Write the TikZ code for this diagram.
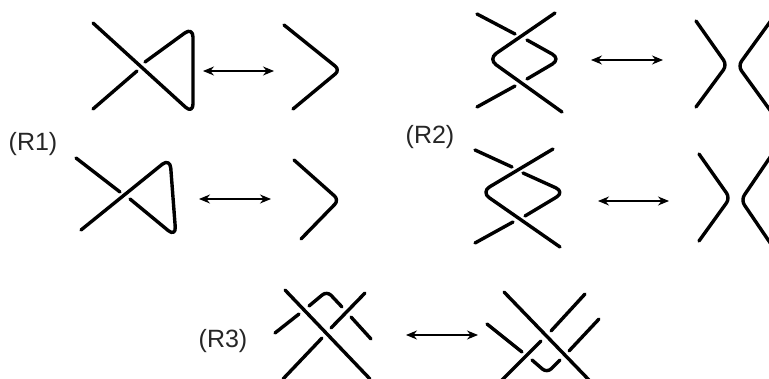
\documentclass[tikz,border=0pt]{standalone}
\usepackage{fontspec}
\setmainfont{Liberation Sans}
\usetikzlibrary{arrows.meta}
\tikzset{
  strand/.style={line width=3.4pt,line cap=round,line join=round,rounded corners=6pt,black},
  loopy/.style={strand,rounded corners=10pt},
  move/.style={line width=1.1pt,{Stealth[length=11pt,width=9pt]}-{Stealth[length=11pt,width=9pt]},black},
  lab/.style={font=\fontsize{25}{30}\selectfont,inner sep=0pt,anchor=base,text=black!85}
}
\begin{document}
\begin{tikzpicture}[x=1pt,y=-1pt]
\useasboundingbox (0,0) rectangle (769,379);
\clip (0,0) rectangle (769,379);
% R1 top
\draw[loopy] (93,23) -- (193,114) -- (193,27) -- (145,62);
\draw[strand] (93,109) -- (137,71);
\draw[strand] (284,25) -- (340,70) -- (293,109);
\coordinate (a1l) at (203,71); \coordinate (a1r) at (274,71);
\draw[move] (a1l) -- (a1r);
% R1 bottom
\draw[strand] (76,158) -- (120,192);
\draw[loopy] (81,230) -- (170,158) -- (176,237) -- (130,199);
\draw[strand] (294,160) -- (339,200) -- (301,239);
\coordinate (a2l) at (199,199); \coordinate (a2r) at (271,199);
\draw[move] (a2l) -- (a2r);
\node[lab] (r1) at (33,151) {(R1)};
% R2 top
\draw[strand] (477,14) -- (515,34);
\draw[loopy] (555,13) -- (488,59) -- (562,112);
\draw[loopy] (527,40) -- (561,59) -- (527,79);
\draw[strand] (477,107) -- (515,86);
\draw[strand] (696,21) -- (727,65) -- (696,107);
\draw[strand] (775,15) -- (738,66) -- (775,117);
\coordinate (a3l) at (591,60); \coordinate (a3r) at (663,60);
\draw[move] (a3l) -- (a3r);
% R2 bottom
\draw[strand] (475,150) -- (512,167);
\draw[loopy] (553,149) -- (481,192) -- (560,247);
\draw[loopy] (523,173) -- (565,192) -- (525,216);
\draw[strand] (475,243) -- (513,222);
\draw[strand] (699,154) -- (730,198) -- (699,241);
\draw[strand] (775,150) -- (741,200) -- (775,250);
\coordinate (a4l) at (598,201); \coordinate (a4r) at (669,201);
\draw[move] (a4l) -- (a4r);
\node[lab] (r2) at (430,144) {(R2)};
% R3 left
\draw[strand] (285,290) -- (370,379);
\draw[strand] (275,333) -- (299,314);
\draw[strand] (309,306) -- (327,291) -- (342,307);
\draw[strand] (365,293) -- (331,328);
\draw[strand] (351,317) -- (371,339);
\draw[strand] (322,338) -- (283,379);
\coordinate (a5l) at (406,335); \coordinate (a5r) at (478,335);
\draw[move] (a5l) -- (a5r);
\node[lab] (r3) at (223,348) {(R3)};
% R3 right
\draw[strand] (504,292) -- (589,380);
\draw[strand] (585,294) -- (551,331);
\draw[strand] (599,319) -- (569,351);
\draw[strand] (487,324) -- (522,352);
\draw[strand] (541,341) -- (501,381);
\draw[strand] (532,360) -- (547,373) -- (560,360);
\end{tikzpicture}
\end{document}
